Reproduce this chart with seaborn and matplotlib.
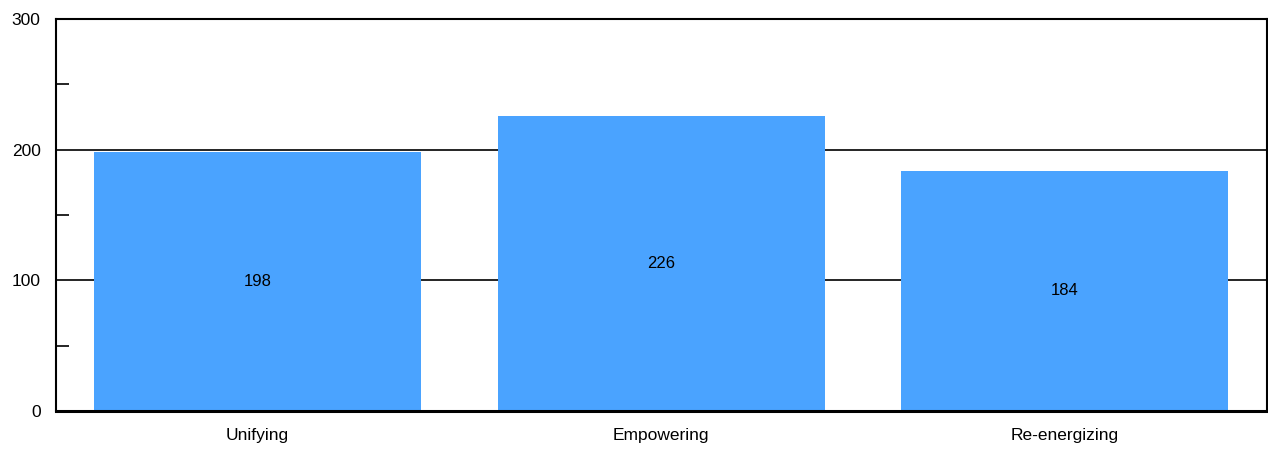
import matplotlib
matplotlib.use("Agg")
import matplotlib.pyplot as plt
import pandas as pd
import seaborn as sns
from matplotlib.ticker import MultipleLocator

CATEGORIES = ["Unifying", "Empowering", "Re-energizing"]
VALUES = [198, 226, 184]

sns.set_theme(style="white")
plt.rcParams['font.family'] = ['Liberation Sans', 'DejaVu Sans']

df = pd.DataFrame({"category": CATEGORIES, "value": VALUES})

fig, ax = plt.subplots(figsize=(12.68, 4.49), dpi=100)
fig.subplots_adjust(left=0.044, right=0.999, top=0.958, bottom=0.084)

ax.set_axisbelow(True)
ax.yaxis.grid(True, color="black", linewidth=1.2)
sns.barplot(data=df, x="category", y="value", color="#4aa3ff", saturation=1,
            width=0.81, linewidth=0, ax=ax, zorder=2)

for i, v in enumerate(VALUES):
    ax.text(i, v / 2, str(v), ha="center", va="center", fontsize=12, color="black", zorder=3)

ax.set_ylim(0, 300)
ax.yaxis.set_major_locator(MultipleLocator(100))
ax.yaxis.set_minor_locator(MultipleLocator(50))
ax.tick_params(axis="y", which="both", left=True)
ax.tick_params(axis="y", which="major", length=0, labelsize=12.5, labelcolor="black", pad=11)
ax.tick_params(axis="y", which="minor", direction="in", length=9, width=1.2, color="black")
ax.tick_params(axis="x", length=0, labelsize=12.5, labelcolor="black", pad=12)
ax.set_xlabel("")
ax.set_ylabel("")
for s in ax.spines.values():
    s.set_color("black")
    s.set_linewidth(1.5)
ax.spines["bottom"].set_linewidth(2.2)
ax.spines["bottom"].set_zorder(4)

plt.savefig("out.png", dpi=100)
